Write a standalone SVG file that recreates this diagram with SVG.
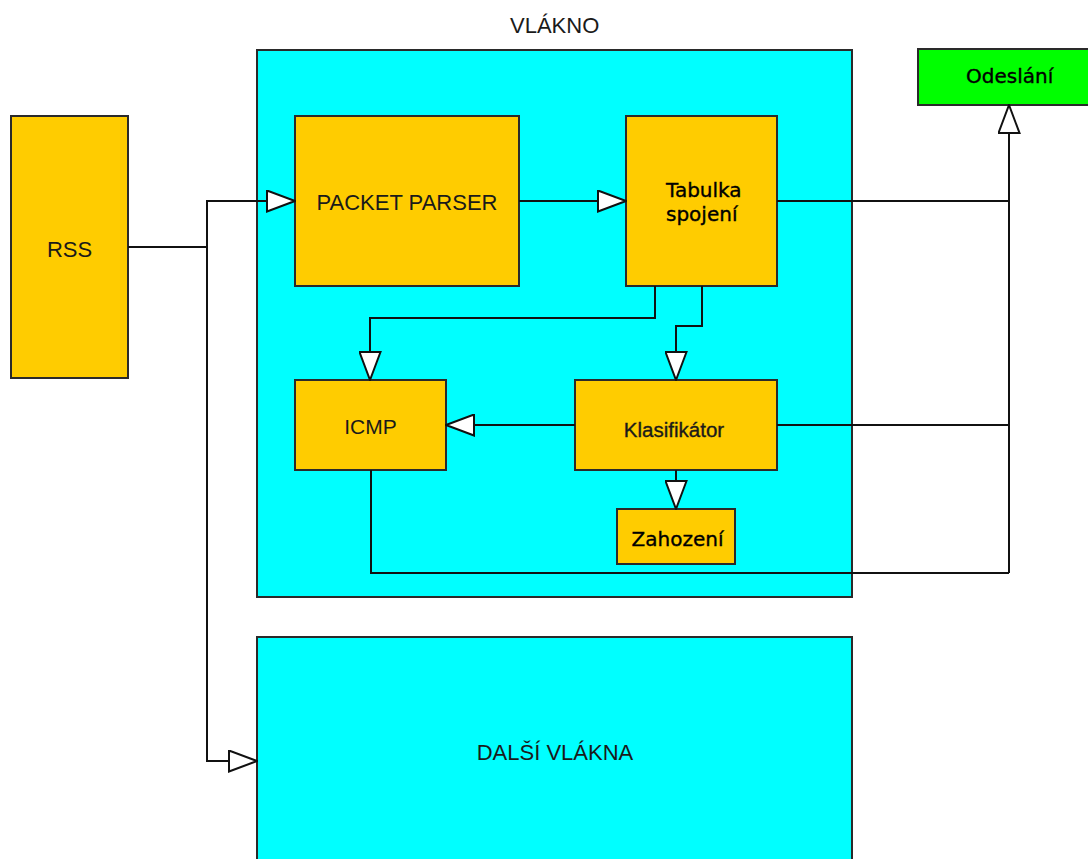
<svg xmlns="http://www.w3.org/2000/svg" width="1088" height="859" viewBox="0 0 1088 859">
<style>
.thread{fill:#00ffff;stroke:#2a2a2a;stroke-width:2}
.blk{fill:#ffcc00;stroke:#2a2a2a;stroke-width:2}
.out{fill:#00ff00;stroke:#2a2a2a;stroke-width:2}
.conn{fill:none;stroke:#111;stroke-width:2}
.ta{font-family:"Liberation Sans",Arial,sans-serif;font-size:22px;fill:#1a1a1a}
.td{font-family:"DejaVu Sans",sans-serif;font-size:20px;fill:#000;stroke:#000;stroke-width:0.35}
</style>
<defs>
<marker id="arr" markerUnits="userSpaceOnUse" markerWidth="30" markerHeight="23" refX="28" refY="10.5" orient="auto" viewBox="-1 -1 30 23">
<path d="M0,0 L28,10.5 L0,21 Z" fill="#fff" stroke="#111" stroke-width="2" stroke-linejoin="miter"/>
</marker>
</defs>
<g id="vlakno">
<rect class="thread" x="257" y="50" width="595" height="547"/>
<text class="ta" x="510" y="33">VLÁKNO</text>
</g>
<g id="dalsi">
<rect class="thread" x="257" y="637" width="595" height="240"/>
<text class="ta" x="555" y="760" text-anchor="middle">DALŠÍ VLÁKNA</text>
</g>
<g id="rss">
<rect class="blk" x="11" y="116" width="117" height="262"/>
<text class="ta" x="69.5" y="257" text-anchor="middle">RSS</text>
</g>
<g id="parser">
<rect class="blk" x="295" y="116" width="224" height="170"/>
<text class="ta" x="407" y="210" text-anchor="middle">PACKET PARSER</text>
</g>
<g id="tabulka">
<rect class="blk" x="626" y="116" width="151" height="170"/>
<text class="td" x="666" y="197">Tabulka</text>
<text class="td" x="666" y="221">spojení</text>
</g>
<g id="icmp">
<rect class="blk" x="295" y="380" width="151" height="90"/>
<text class="ta" x="370.5" y="434" text-anchor="middle" style="font-size:21px">ICMP</text>
</g>
<g id="klasifikator">
<rect class="blk" x="575" y="380" width="202" height="90"/>
<text class="ta" x="674" y="437" text-anchor="middle" style="font-size:20.5px;stroke:#1a1a1a;stroke-width:0.35">Klasifikátor</text>
</g>
<g id="zahozeni">
<rect class="blk" x="617" y="509" width="118" height="55"/>
<text class="td" x="677.5" y="546" text-anchor="middle">Zahození</text>
</g>
<g id="odeslani">
<rect class="out" x="918" y="49" width="172" height="56"/>
<text class="td" x="966" y="83">Odeslání</text>
</g>
<g id="connectors">
<path class="conn" d="M128,247 H207 V201 H295" marker-end="url(#arr)"/>
<path class="conn" d="M207,247 V761 H257" marker-end="url(#arr)"/>
<path class="conn" d="M519,201 H626" marker-end="url(#arr)"/>
<path class="conn" d="M777,201 H1009"/>
<path class="conn" d="M777,425 H1009"/>
<path class="conn" d="M371,470 V573 H1009"/>
<path class="conn" d="M1009,573 V105" marker-end="url(#arr)"/>
<path class="conn" d="M655,286 V318 H370 V380" marker-end="url(#arr)"/>
<path class="conn" d="M702,286 V326 H676 V380" marker-end="url(#arr)"/>
<path class="conn" d="M575,425 H446" marker-end="url(#arr)"/>
<path class="conn" d="M676,470 V509" marker-end="url(#arr)"/>
</g>
</svg>
